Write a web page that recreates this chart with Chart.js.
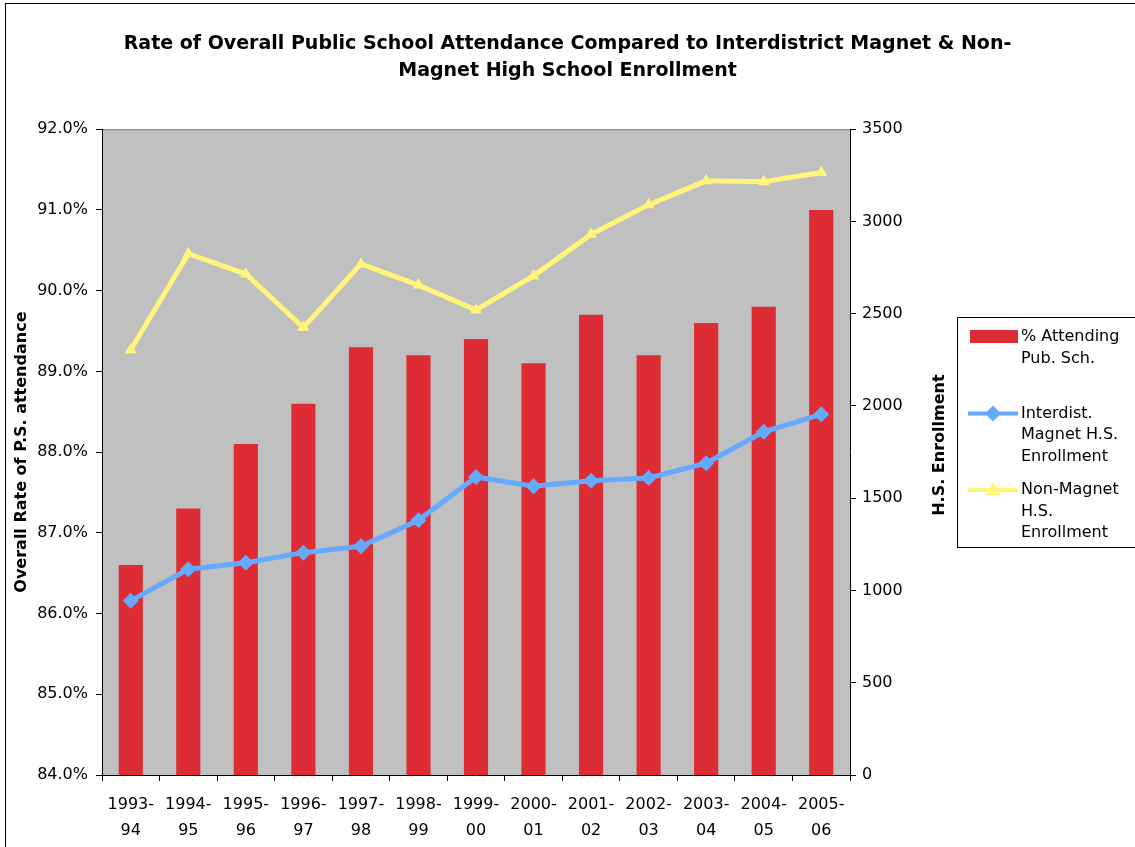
<!DOCTYPE html>
<html>
<head>
<meta charset="utf-8">
<script src="https://cdn.jsdelivr.net/npm/chart.js@4.4.1/dist/chart.umd.min.js"></script>
<style>
  html, body { margin: 0; padding: 0; background: #fff; }
  #wrap { width: 1135px; height: 847px; }
</style>
</head>
<body>
<div id="wrap"><canvas id="chart" width="1135" height="847"></canvas></div>
<script>
// School years (two-line tick labels)
const years = [
  ["1993-", "94"], ["1994-", "95"], ["1995-", "96"], ["1996-", "97"],
  ["1997-", "98"], ["1998-", "99"], ["1999-", "00"], ["2000-", "01"],
  ["2001-", "02"], ["2002-", "03"], ["2003-", "04"], ["2004-", "05"],
  ["2005-", "06"]
];

// % attending public school (left axis)
const pctAttending = [86.6, 87.3, 88.1, 88.6, 89.3, 89.2, 89.4, 89.1, 89.7, 89.2, 89.6, 89.8, 91.0];

// H.S. enrollment (right axis)
const magnetEnroll = [945, 1115, 1150, 1205, 1240, 1380, 1615, 1565, 1595, 1610, 1690, 1860, 1955];
const nonMagnetEnroll = [2305, 2825, 2715, 2425, 2770, 2655, 2520, 2705, 2930, 3090, 3220, 3215, 3265];

const seriesLabels = [
  ["% Attending", "Pub. Sch."],
  ["Interdist.", "Magnet H.S.", "Enrollment"],
  ["Non-Magnet", "H.S.", "Enrollment"]
];

const titleLines = [
  "Rate of Overall Public School Attendance Compared to Interdistrict Magnet & Non-",
  "Magnet High School Enrollment"
];

const FONT = "'DejaVu Sans', Arial, sans-serif";
const RED = "#dd2c33";
const BLUE = "#66aaff";
const YELLOW = "#fff57a";

// white page, outer border, grey plot area
const chartFrame = {
  id: "chartFrame",
  beforeDraw(chart) {
    const { ctx, chartArea: a } = chart;
    ctx.save();
    ctx.fillStyle = "#fff";
    ctx.fillRect(0, 0, chart.width, chart.height);
    ctx.strokeStyle = "#000";
    ctx.lineWidth = 1;
    ctx.strokeRect(5.5, 3.5, chart.width + 20, chart.height + 20);
    ctx.fillStyle = "#c0c0c0";
    ctx.fillRect(a.left, a.top, a.right - a.left, a.bottom - a.top);
    ctx.strokeStyle = "#808080";
    ctx.beginPath();
    ctx.moveTo(a.left, a.top + 0.5);
    ctx.lineTo(a.right, a.top + 0.5);
    ctx.stroke();
    ctx.restore();
  }
};

// rotated axis titles + boxed legend
const sideText = {
  id: "sideText",
  afterDraw(chart) {
    const { ctx, chartArea: a } = chart;
    const mid = (a.top + a.bottom) / 2;
    ctx.save();
    ctx.fillStyle = "#000";
    ctx.font = "bold 16px " + FONT;
    ctx.textAlign = "center";
    ctx.textBaseline = "middle";

    ctx.save();
    ctx.translate(22, mid);
    ctx.rotate(-Math.PI / 2);
    ctx.fillText("Overall Rate of P.S. attendance", 0, 0);
    ctx.restore();

    ctx.save();
    ctx.translate(940, mid - 7);
    ctx.rotate(-Math.PI / 2);
    ctx.fillText("H.S. Enrollment", 0, 0);
    ctx.restore();

    // legend
    const bx = 957.5, by = 317.5;
    ctx.fillStyle = "#fff";
    ctx.fillRect(bx, by, 200, 230);
    ctx.strokeStyle = "#000";
    ctx.lineWidth = 1;
    ctx.strokeRect(bx, by, 200, 230);

    ctx.font = "16px " + FONT;
    ctx.textAlign = "left";
    const slot = 76.5, lh = 21.5;
    chart.data.datasets.forEach((ds, i) => {
      const y0 = 337 + i * slot;
      if (ds.type === "line") {
        ctx.strokeStyle = ds.borderColor;
        ctx.lineWidth = 4;
        ctx.beginPath();
        ctx.moveTo(968, y0);
        ctx.lineTo(1018, y0);
        ctx.stroke();
        ctx.fillStyle = ds.borderColor;
        ctx.beginPath();
        if (ds.pointStyle === "rectRot") {
          ctx.moveTo(993, y0 - 8);
          ctx.lineTo(1001, y0);
          ctx.lineTo(993, y0 + 8);
          ctx.lineTo(985, y0);
        } else {
          ctx.moveTo(993, y0 - 8);
          ctx.lineTo(1001, y0 + 5);
          ctx.lineTo(985, y0 + 5);
        }
        ctx.closePath();
        ctx.fill();
      } else {
        ctx.fillStyle = ds.backgroundColor;
        ctx.fillRect(970, y0 - 7, 48, 13);
      }
      ctx.fillStyle = "#000";
      seriesLabels[i].forEach((t, j) => ctx.fillText(t, 1021, y0 + j * lh));
    });
    ctx.restore();
  }
};

const axisGrid = { drawOnChartArea: false, drawTicks: true, tickLength: 6, color: "#000" };
const tickFont = { family: FONT, size: 16 };

new Chart(document.getElementById("chart"), {
  type: "bar",
  data: {
    labels: years,
    datasets: [
      {
        type: "bar",
        label: seriesLabels[0].join(" "),
        data: pctAttending,
        yAxisID: "y",
        backgroundColor: RED,
        categoryPercentage: 1,
        barPercentage: 0.42,
        order: 2
      },
      {
        type: "line",
        label: seriesLabels[1].join(" "),
        data: magnetEnroll,
        yAxisID: "y1",
        borderColor: BLUE,
        backgroundColor: BLUE,
        borderWidth: 5,
        pointStyle: "rectRot",
        pointRadius: 8,
        pointBorderWidth: 0,
        order: 0
      },
      {
        type: "line",
        label: seriesLabels[2].join(" "),
        data: nonMagnetEnroll,
        yAxisID: "y1",
        borderColor: YELLOW,
        backgroundColor: YELLOW,
        borderWidth: 5,
        pointStyle: "triangle",
        pointRadius: 7,
        pointBorderWidth: 0,
        order: 1
      }
    ]
  },
  options: {
    responsive: false,
    animation: false,
    layout: { padding: 0 },
    plugins: {
      legend: { display: false },
      tooltip: { enabled: false },
      title: {
        display: true,
        text: titleLines,
        color: "#000",
        font: { family: FONT, size: 19, weight: "bold", lineHeight: 1.4 },
        padding: { top: 31, bottom: 45 }
      }
    },
    scales: {
      x: {
        grid: Object.assign({ offset: true }, axisGrid),
        border: { color: "#000", width: 1 },
        ticks: { font: Object.assign({ lineHeight: 1.625 }, tickFont), color: "#000", padding: 11, maxRotation: 0, autoSkip: false },
        afterFit: (s) => { s.height = 72; }
      },
      y: {
        position: "left",
        min: 84,
        max: 92,
        grid: axisGrid,
        border: { color: "#000", width: 1 },
        ticks: { stepSize: 1, font: tickFont, color: "#000", padding: 8, callback: (v) => v.toFixed(1) + "%" },
        afterFit: (s) => { s.width = 102; }
      },
      y1: {
        position: "right",
        min: 0,
        max: 3500,
        grid: axisGrid,
        border: { color: "#000", width: 1 },
        ticks: { stepSize: 500, font: tickFont, color: "#000", padding: 6, callback: (v) => String(v) },
        afterFit: (s) => { s.width = 285; }
      }
    }
  },
  plugins: [chartFrame, sideText]
});
</script>
</body>
</html>
